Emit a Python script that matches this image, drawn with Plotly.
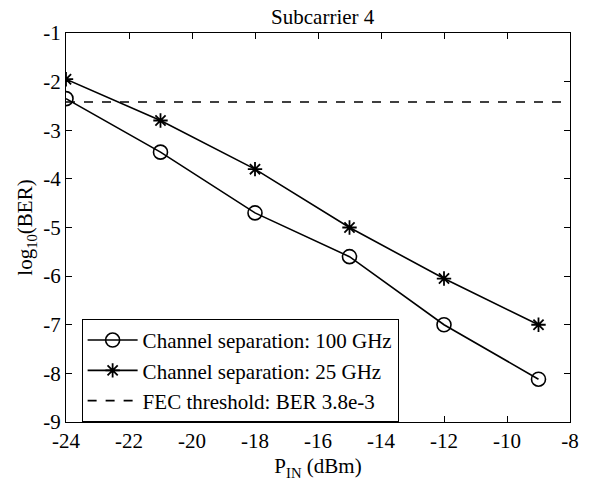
import plotly.graph_objects as go

p_in = [-24, -21, -18, -15, -12, -9]
ber_100 = [-2.35, -3.45, -4.70, -5.60, -7.00, -8.12]
ber_25 = [-1.95, -2.80, -3.80, -5.00, -6.05, -7.00]
fec_x = [-24, -8]
fec_y = [-2.42, -2.42]

x_ticks = [-24, -22, -20, -18, -16, -14, -12, -10, -8]
y_ticks = [-9, -8, -7, -6, -5, -4, -3, -2, -1]

FONT = "Liberation Serif, Times New Roman, serif"
FS = 21

fig = go.Figure()
fig.add_trace(go.Scatter(x=p_in, y=ber_100, mode="lines+markers",
                         name="Channel separation: 100 GHz",
                         line=dict(color="black", width=1.6),
                         marker=dict(symbol="circle-open", size=14, color="black",
                                     line=dict(width=1.6))))
fig.add_trace(go.Scatter(x=p_in, y=ber_25, mode="lines+markers",
                         name="Channel separation: 25 GHz",
                         line=dict(color="black", width=1.6),
                         marker=dict(symbol="asterisk-open", size=12, color="black",
                                     line=dict(width=1.8, color="black"))))
fig.add_trace(go.Scatter(x=fec_x, y=fec_y, mode="lines",
                         name="FEC threshold: BER 3.8e-3",
                         line=dict(color="black", width=1.6, dash="dash")))

axis_common = dict(showgrid=False, zeroline=False, showline=True, linecolor="black",
                   linewidth=1, mirror="ticks", ticks="inside", ticklen=6,
                   tickcolor="black", tickfont=dict(family=FONT, size=FS, color="black"))

fig.update_layout(
    width=590, height=485,
    margin=dict(l=66, r=11, t=33, b=59),
    plot_bgcolor="white", paper_bgcolor="white",
    title=dict(text="Subcarrier 4", x=0.547, xanchor="center", y=0.966, yanchor="middle",
               font=dict(family=FONT, size=FS, color="black")),
    xaxis=dict(range=[-24, -8], tickvals=x_ticks, ticktext=[str(v) for v in x_ticks],
               title=dict(text="P<sub>IN</sub> (dBm)", standoff=6,
                          font=dict(family=FONT, size=FS, color="black")),
               **axis_common),
    yaxis=dict(range=[-9, -1], tickvals=y_ticks, ticktext=[str(v) for v in y_ticks],
               title=dict(text="log<sub>10</sub>(BER)", standoff=4,
                          font=dict(family=FONT, size=FS, color="black")),
               **axis_common),
    legend=dict(x=0.031, y=0.265, xanchor="left", yanchor="top",
                bgcolor="white", bordercolor="black", borderwidth=1,
                font=dict(family=FONT, size=FS, color="black"),
                itemwidth=50, tracegroupgap=0),
    showlegend=True,
)

fig.write_html("out.html", config={"displayModeBar": False},
               post_script="document.body.style.margin='0';")
